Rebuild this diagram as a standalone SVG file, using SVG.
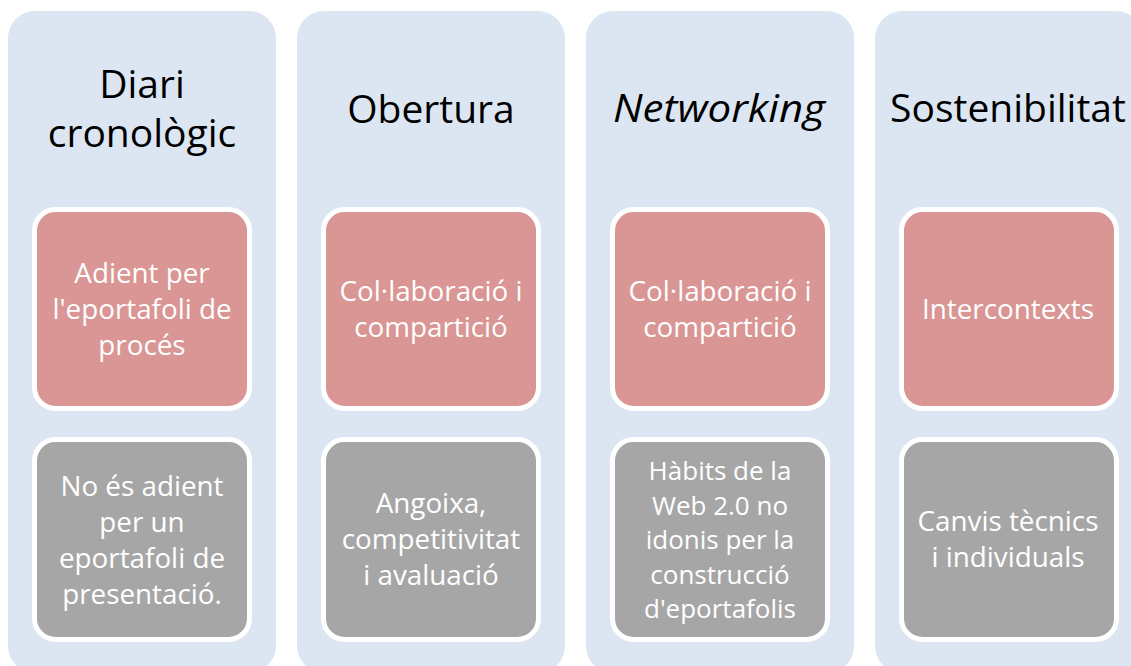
<svg xmlns="http://www.w3.org/2000/svg" width="1131" height="666" viewBox="0 0 1131 666">
<style>
.col{fill:#dce6f2;}
.red{fill:#d99694;stroke:#ffffff;stroke-width:5;}
.gray{fill:#a6a6a6;stroke:#ffffff;stroke-width:5;}
.title{font-family:"Open Sans","Liberation Sans",sans-serif;font-size:39px;fill:#000000;text-anchor:middle;}
.body{font-family:"Open Sans","Liberation Sans",sans-serif;font-size:27.8px;fill:#ffffff;text-anchor:middle;}
.small{font-size:26px;}
</style>
<rect width="1131" height="666" fill="#ffffff"/>
<g id="col1">
<rect class="col" x="8" y="11" width="268" height="662" rx="27"/>
<text class="title" x="142" y="98">Diari</text>
<text class="title" x="142" y="147">cronològic</text>
</g>
<g id="col1-pos">
<rect class="red" x="34.5" y="209.5" width="215" height="199" rx="21"/>
<text class="body" x="142" y="283">Adient per</text>
<text class="body" x="142" y="319">l'eportafoli de</text>
<text class="body" x="142" y="355">procés</text>
</g>
<g id="col1-neg">
<rect class="gray" x="34.5" y="439.5" width="215" height="200" rx="21"/>
<text class="body" x="142" y="495.5">No és adient</text>
<text class="body" x="142" y="531.5">per un</text>
<text class="body" x="142" y="567.5">eportafoli de</text>
<text class="body" x="142" y="603.5">presentació.</text>
</g>
<g id="col2">
<rect class="col" x="297" y="11" width="268" height="662" rx="27"/>
<text class="title" x="431" y="123">Obertura</text>
</g>
<g id="col2-pos">
<rect class="red" x="323.5" y="209.5" width="215" height="199" rx="21"/>
<text class="body" x="431" y="301">Col·laboració i</text>
<text class="body" x="431" y="337">compartició</text>
</g>
<g id="col2-neg">
<rect class="gray" x="323.5" y="439.5" width="215" height="200" rx="21"/>
<text class="body" x="431" y="513">Angoixa,</text>
<text class="body" x="431" y="549">competitivitat</text>
<text class="body" x="431" y="585">i avaluació</text>
</g>
<g id="col3">
<rect class="col" x="586" y="11" width="268" height="662" rx="27"/>
<text class="title" x="719" y="122" font-style="italic" textLength="212" lengthAdjust="spacingAndGlyphs">Networking</text>
</g>
<g id="col3-pos">
<rect class="red" x="612.5" y="209.5" width="215" height="199" rx="21"/>
<text class="body" x="720" y="301">Col·laboració i</text>
<text class="body" x="720" y="337">compartició</text>
</g>
<g id="col3-neg">
<rect class="gray" x="612.5" y="439.5" width="215" height="200" rx="21"/>
<text class="body small" x="720" y="480">Hàbits de la</text>
<text class="body small" x="720" y="514.5">Web 2.0 no</text>
<text class="body small" x="720" y="549">idonis per la</text>
<text class="body small" x="720" y="583.5">construcció</text>
<text class="body small" x="720" y="618">d'eportafolis</text>
</g>
<g id="col4">
<rect class="col" x="875" y="11" width="268" height="662" rx="27"/>
<text class="title" x="1008" y="122">Sostenibilitat</text>
</g>
<g id="col4-pos">
<rect class="red" x="901.5" y="209.5" width="215" height="199" rx="21"/>
<text class="body" x="1008" y="319">Intercontexts</text>
</g>
<g id="col4-neg">
<rect class="gray" x="901.5" y="439.5" width="215" height="200" rx="21"/>
<text class="body" x="1008" y="531">Canvis tècnics</text>
<text class="body" x="1008" y="567">i individuals</text>
</g>
<g id="connectors"/>
</svg>
